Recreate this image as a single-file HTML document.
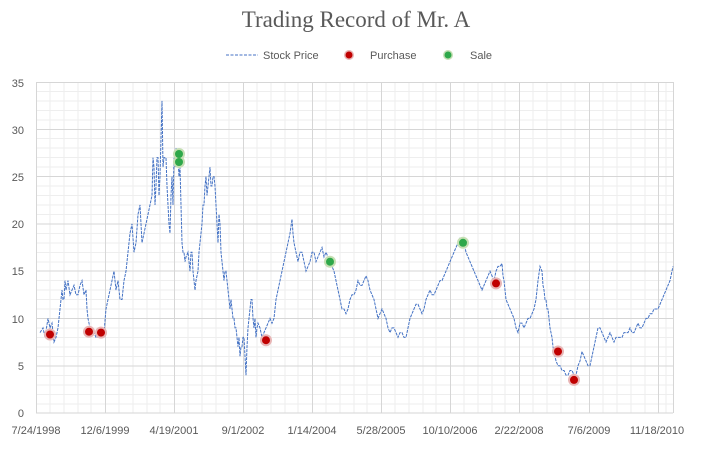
<!DOCTYPE html>
<html><head><meta charset="utf-8"><style>
body{margin:0;background:#fff;width:712px;height:444px;overflow:hidden}
text{font-family:"Liberation Sans",sans-serif;fill:#595959}
</style></head><body>
<svg width="712" height="444" viewBox="0 0 712 444">
<text x="356" y="27" text-anchor="middle" style="font-family:'Liberation Serif',serif;font-size:23px;fill:#595959">Trading Record of  Mr. A</text>
<line x1="226" y1="55" x2="258" y2="55" stroke="#4472c4" stroke-width="1" stroke-dasharray="3,1.5"/>
<text x="263" y="59" font-size="11">Stock Price</text>
<circle cx="349" cy="55" r="5" fill="#e8b5b5"/><circle cx="349" cy="55" r="3.5" fill="#c00000"/>
<text x="370" y="59" font-size="11">Purchase</text>
<circle cx="448" cy="55" r="5" fill="#c6dfb4"/><circle cx="448" cy="55" r="3.5" fill="#2ea84a"/>
<text x="470" y="59" font-size="11">Sale</text>
<g stroke="#ececec" stroke-width="1">
<script></script>
</g>
<g id="grid" stroke-width="1"></g>
<!-- minor grid -->
<g stroke="#eeeeee">
<path d="M36 91.5H673M36 101H673M36 110.5H673M36 120H673M36 138.5H673M36 148H673M36 157.5H673M36 167H673M36 186H673M36 195.5H673M36 205H673M36 214.5H673M36 233.5H673M36 243H673M36 252.5H673M36 262H673M36 280.5H673M36 290H673M36 299.5H673M36 309H673M36 328H673M36 337.5H673M36 347H673M36 356.5H673M36 375.5H673M36 385H673M36 394.5H673M36 404H673"/>
<path d="M50 82V413M64 82V413M78 82V413M91 82V413M119 82V413M133 82V413M147 82V413M160 82V413M188 82V413M202 82V413M216 82V413M229 82V413M257 82V413M271 82V413M285 82V413M298 82V413M326 82V413M340 82V413M354 82V413M367 82V413M395 82V413M409 82V413M423 82V413M436 82V413M464 82V413M478 82V413M492 82V413M505 82V413M533 82V413M547 82V413M561 82V413M575 82V413M603 82V413M617 82V413M631 82V413M645 82V413M666 82V413"/>
</g>
<g stroke="#d6d6d6">
<path d="M36 82.5H673M36 129.5H673M36 176.5H673M36 224H673M36 271H673M36 318.5H673M36 366H673M36 413H673"/>
<path d="M36.5 82V413M105.5 82V413M174.5 82V413M243.5 82V413M312.5 82V413M381.5 82V413M450.5 82V413M519.5 82V413M589.5 82V413M658.5 82V413M673.5 82V413"/>
</g>
<g font-size="11" text-anchor="end">
<text x="24" y="87">35</text><text x="24" y="134">30</text><text x="24" y="181">25</text><text x="24" y="228">20</text><text x="24" y="275">15</text><text x="24" y="323">10</text><text x="24" y="370">5</text><text x="24" y="417">0</text>
</g>
<g font-size="11" text-anchor="middle">
<text x="36" y="434">7/24/1998</text><text x="105" y="434">12/6/1999</text><text x="174" y="434">4/19/2001</text><text x="243" y="434">9/1/2002</text><text x="312" y="434">1/14/2004</text><text x="381" y="434">5/28/2005</text><text x="450" y="434">10/10/2006</text><text x="519" y="434">2/22/2008</text><text x="589" y="434">7/6/2009</text><text x="657" y="434">11/18/2010</text>
</g>
<g transform="matrix(1 0 0 -9.457 0 413)">
<polyline fill="none" stroke="#4472c4" stroke-width="1" vector-effect="non-scaling-stroke" stroke-dasharray="3,1"
points="40,8.5 43,9 45,8 48,10 50,9 52,9.5 54,7.5 56,8 58,9 60,11 62,13 63,12 64,12 65,14 66,13 68,14 70,12.5 72,13 74,13.5 76,12.5 78,12.5 80,13.5 82,14 84,12.5 86,13 87,11 88,10 90,9 92,8.5 94,8.5 96,8 98,8 100,9 102,8 104,8.5 106,11 108,12 110,13 112,14 114,15 116,13 118,14 120,12 122,12 124,14 126,15 128,17 130,19 132,20 134,17 136,18 138,21 140,22 142,18 144,19 146,20 148,21 150,22 152,23 153,27 154,26 155,22 156,24 157,27 158,27 159,23 160,25 161,29 162,33 163,26 164,27 166,27 167,24 168,22 169,20 170,19 171,23 172,25 173,22 174,27 175,26 176,28 177,26 178,27 179,25 180,26 181,22 182,18 183,17 184,17 185,16 186,16.5 188,17 189,16 190,15 191,17 192,17 193,15 195,13 196,14 198,15 199,17 200,18 201,19 202,20 203,22 204,22 205,24 206,25 207,23 208,24 209,25 210,26 211,24 212,24 213,25 214,25 215,24 216,22 217,20 218,18 219,21 220,20 221,17 222,16 223,15 224,14 225,15 226,15 227,14 228,13 229,12 230,11 231,12 232,11 233,10 234,10 235,9 236,9 237,8 238,7 239,8 240,6 241,7 242,7 243,8 244,8 245,6 246,4 247,7 248,9 249,10 250,11 251,12 252,12 253,10 254,9 255,10 256,8 257,9 258,9.5 260,9 262,8 264,8.5 266,9 268,9.5 270,10 272,9.5 274,10 276,12 278,13 280,14 282,15 284,16 286,17 288,18 290,19 292,20.5 293,19 294,18 296,17 298,16 300,17 302,17 304,16 306,15 308,15.5 310,16 312,17 314,17 316,16 318,16.5 320,17 322,17.5 324,16.5 326,17 328,16.5 330,16 332,15.5 334,15 336,14 338,13 340,12 342,11 344,11 346,10.5 348,11 350,12 352,12.5 354,12.5 356,13 358,14 360,13.5 362,13.5 364,14 366,14.5 368,14 370,13 372,12.5 374,12 376,11 378,10 380,10.5 382,11 384,10.5 386,10 388,9 390,8.5 392,9 394,9 396,8.5 398,8 400,8.5 402,8.5 404,8 406,8 408,9 410,10 412,10.5 414,11 416,11.5 418,11.5 420,11 422,10.5 424,11 426,12 428,12.5 430,13 432,12.5 434,12.5 436,13 438,13.5 440,14 442,14 444,14.5 446,15 448,15.5 450,16 452,16.5 454,17 456,17.5 458,18 460,18.5 462,18.5 464,18 466,17 468,16.5 470,16 472,15.5 474,15 476,14.5 478,14 480,13.5 482,13 484,13.5 486,14 488,14.5 490,15 492,14.5 494,14 496,15 498,15.5 500,15.5 502,15.8 503,14.5 504,14 505,13 506,12 508,11.5 510,11 512,10.5 514,10 516,9 518,8.5 520,9.5 522,9.5 524,9 526,9.5 528,10 530,10 532,10.5 534,11 536,12 538,14 540,15.5 542,15 543,13.5 544,13 545,12 546,12 547,11 548,11 549,10 550,9 551,8.5 552,8 553,7 554,6.5 555,6 556,5.5 558,5 560,5 562,4.5 564,4.5 566,4 568,4 570,4.5 572,4.5 574,4 576,4 578,5 580,5.5 582,6.5 584,6 586,5.5 588,5 590,5 592,6 594,7 596,8 598,9 600,9 602,8.5 604,8 606,7.5 608,8 610,8.5 612,8 614,7.5 616,8 618,8 620,8 622,8 624,8.5 626,8.5 628,8.5 630,9 632,8.5 634,8.5 636,9 638,9.5 640,9 642,9 644,9.5 646,10 648,10 650,10.5 652,10.5 654,11 656,11 658,11 660,11.5 662,12 664,12.5 666,13 668,13.5 670,14 672,15 673,15.5"/>
</g>
<g>
<g fill="#e8b5b5"><circle cx="50" cy="334.5" r="6"/><circle cx="89" cy="331.7" r="6"/><circle cx="101" cy="332.6" r="6"/><circle cx="266" cy="340.2" r="6"/><circle cx="496" cy="283.4" r="6"/><circle cx="558" cy="351.5" r="6"/><circle cx="574" cy="379.9" r="6"/></g>
<g fill="#c00000"><circle cx="50" cy="334.5" r="4"/><circle cx="89" cy="331.7" r="4"/><circle cx="101" cy="332.6" r="4"/><circle cx="266" cy="340.2" r="4"/><circle cx="496" cy="283.4" r="4"/><circle cx="558" cy="351.5" r="4"/><circle cx="574" cy="379.9" r="4"/></g>
<g fill="#c6dfb4"><circle cx="179" cy="154" r="6"/><circle cx="179" cy="162" r="6"/><circle cx="330" cy="261.7" r="6"/><circle cx="463" cy="242.8" r="6"/></g>
<g fill="#2ea84a"><circle cx="179" cy="154" r="4"/><circle cx="179" cy="162" r="4"/><circle cx="330" cy="261.7" r="4"/><circle cx="463" cy="242.8" r="4"/></g>
</g>
</svg>
</body></html>
